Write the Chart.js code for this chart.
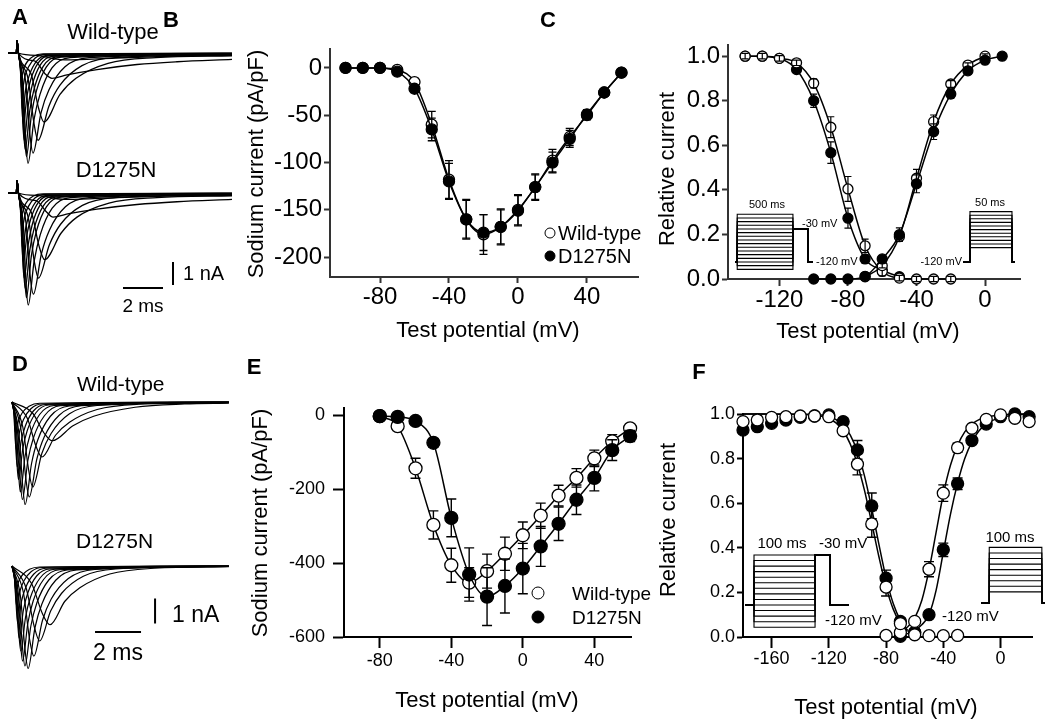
<!DOCTYPE html>
<html><head><meta charset="utf-8">
<script src="https://cdn.jsdelivr.net/npm/chart.js@4.4.0/dist/chart.umd.min.js"></script>
<style>
html,body{margin:0;padding:0;background:#fff;}
#wrap{position:relative;width:1050px;height:723px;overflow:hidden;background:#fff;font-family:"Liberation Sans",Arial,Helvetica,sans-serif;color:#000;}
#wrap canvas{position:absolute;left:0;top:0;}
#txt{position:absolute;left:0;top:0;width:1050px;height:723px;z-index:5;}
.t,.l,.r,.v{position:absolute;white-space:nowrap;line-height:1;}
.t{transform:translate(-50%,-50%);}
.l{transform:translate(0,-50%);}
.r{transform:translate(-100%,-50%);}
.v{transform:translate(-50%,-50%) rotate(-90deg);}
.dot{position:absolute;border-radius:50%;border:1.4px solid #000;box-sizing:border-box;transform:translate(-50%,-50%);background:#fff;}
.dot.f{background:#000;}
</style></head>
<body><div id="wrap"><div id="txt"></div></div>
<script>
// ---------------- DATA ----------------
// Panel B: peak current density (pA/pF) vs test potential
const bVolt   = [-100,-90,-80,-70,-60,-50,-40,-30,-20,-10,0,10,20,30,40,50,60];
const bWT     = [0,0,0,-2,-15,-60,-118,-160,-176,-168,-150,-126,-98,-73,-50,-26,-5];
const bWTerr  = [0,0,0,2,4,14,20,21,21,19,16,14,12,9,5,3,2];
const bMut    = [0,0,0,-4,-22,-65,-120,-160,-174,-168,-151,-126,-100,-75,-49,-26,-5];
const bMutErr = [0,0,0,2,4,12,19,20,19,18,16,13,11,9,5,3,2];
const bXTicks = [-80,-40,0,40];
const bYTicks = [0,-50,-100,-150,-200];

// Panel C: steady-state inactivation and activation
const cInactVolt    = [-140,-130,-120,-110,-100,-90,-80,-70,-60,-50,-40,-30,-20];
const cInactWT      = [1.0,1.0,0.99,0.97,0.878,0.681,0.404,0.149,0.034,0.004,0,0,0];
const cInactWTerr   = [0.012,0.012,0.012,0.012,0.02,0.047,0.056,0.03,0.02,0.012,0.012,0.012,0.012];
const cInactMutVolt = [-140,-130,-120,-110,-100,-90,-80,-70,-60,-50];
const cInactMut     = [1.0,1.0,0.99,0.94,0.80,0.567,0.273,0.09,0.04,0.01];
const cInactMutErr  = [0.01,0.01,0.01,0.012,0.03,0.048,0.045,0.02,0.01,0.005];
const cActWTVolt    = [-70,-60,-50,-40,-30,-20,-10,0];
const cActWT        = [0.01,0.06,0.19,0.452,0.706,0.875,0.96,1.0];
const cActWTerr     = [0,0.01,0.02,0.04,0.03,0.015,0.01,0.01];
const cActMutVolt   = [-100,-90,-80,-70,-60,-50,-40,-30,-20,-10,0,10];
const cActMut       = [0,0,0,0.012,0.09,0.199,0.427,0.661,0.83,0.934,0.982,1.0];
const cActMutErr    = [0,0,0,0,0.015,0.03,0.04,0.035,0.02,0.012,0.01,0];
const cXTicks = [-120,-80,-40,0];
const cYTicks = [0,0.2,0.4,0.6,0.8,1.0];

// Panel E: peak current density (pA/pF)
const eVolt   = [-80,-70,-60,-50,-40,-30,-20,-10,0,10,20,30,40,50,60];
const eWT     = [-3,-30,-144,-297,-406,-453,-422,-375,-325,-272,-218,-170,-117,-71,-36];
const eWTerr  = [0,5,27,38,46,40,46,45,36,34,28,25,22,18,10];
const eMut    = [-3,-5,-16,-75,-278,-431,-491,-462,-415,-355,-294,-229,-170,-95,-57];
const eMutErr = [0,0,5,11,51,72,78,73,68,54,45,40,35,28,15];
const eXTicks = [-80,-40,0,40];
const eYTicks = [0,-200,-400,-600];

// Panel F: inactivation / activation
const fInactVolt    = [-180,-170,-160,-150,-140,-130,-120,-110,-100,-90,-80,-70,-60,-50,-40,-30];
const fInactWT      = [0.966,0.973,0.985,0.988,0.991,0.991,0.988,0.925,0.775,0.507,0.224,0.06,0.01,0.006,0.006,0.007];
const fInactWTerr   = [0,0,0,0,0,0,0,0.015,0.048,0.06,0.04,0.015,0,0,0,0];
const fInactMutVolt = [-180,-170,-160,-150,-140,-130,-120,-110,-100,-90,-80,-70,-60];
const fInactMut     = [0.928,0.943,0.958,0.973,0.985,0.991,0.996,0.966,0.839,0.588,0.264,0.07,0.02];
const fInactMutErr  = [0,0,0,0,0,0,0,0.015,0.042,0.058,0.036,0.015,0];
const fActVolt      = [-80,-70,-60,-50,-40,-30,-20,-10,0,10,20];
const fActWT        = [0.007,0.02,0.07,0.304,0.645,0.849,0.936,0.976,0.996,0.981,0.966];
const fActWTerr     = [0,0,0.01,0.034,0.037,0.02,0.01,0.005,0,0,0];
const fActMutVolt   = [-70,-60,-50,-40,-30,-20,-10,0,10,20];
const fActMut       = [0.003,0.02,0.1,0.391,0.687,0.881,0.955,0.988,1.0,0.988];
const fActMutErr    = [0,0,0.01,0.03,0.026,0.015,0.01,0,0,0];
// fitted curves
const fFitInactVolt = [-180,-140,-125,-120,-115,-110,-105,-100,-95,-90,-85,-80,-75,-70,-65];
const fFitInactWT   = [1.0,0.999,0.99,0.98,0.96,0.925,0.865,0.775,0.655,0.51,0.36,0.225,0.125,0.06,0.025];
const fFitInactMut  = [1.0,0.999,0.995,0.99,0.975,0.95,0.905,0.83,0.72,0.575,0.415,0.265,0.15,0.075,0.03];
const fFitActVolt   = [-72,-65,-60,-55,-50,-45,-40,-35,-30,-25,-20,-15,-10,0,10,20];
const fFitActWT     = [0.02,0.045,0.085,0.165,0.3,0.47,0.64,0.77,0.86,0.92,0.955,0.975,0.985,0.995,1.0,1.0];
const fFitActMut    = [0.005,0.015,0.03,0.055,0.1,0.21,0.38,0.55,0.69,0.8,0.875,0.925,0.955,0.985,0.995,1.0];
const fXTicks = [-160,-120,-80,-40,0];
const fYTicks = [0,0.2,0.4,0.6,0.8,1.0];

// Voltage protocols (mV, ms)
const holdV = -120;
const cInactLevels = [-140,-130,-120,-110,-100,-90,-80,-70,-60,-50,-40,-30,-20,-10,0,10];
const cInactTiming = [20,500,135,45];   // hold, prepulse, test, post
const cInactTestV = -30;
const cActLevels = [-80,-70,-60,-50,-40,-30,-20,-10,0,10,20];
const cActTiming = [8.3,50,3.6];        // hold, pulse, post
const fInactLevels = [-160,-150,-140,-130,-120,-110,-100,-90,-80,-70,-60,-50,-40,-30];
const fInactTiming = [14.75,100,24.6,31];
const fInactTestV = -30;
const fActLevels = [-100,-90,-80,-70,-60,-50,-40,-30,-20];
const fActTiming = [15.7,100,6];

// Current traces (ms, nA)
const aArtifact = [[-0.45,0],[-0.03,0],[0,0.55]];
const aWT = [
 [[0.07,0],[1.0,-0.1],[1.9,-0.26],[2.4,-0.3],[4.9,-0.22],[7.4,-0.15],[10.75,-0.1]],
 [[0.07,0],[0.9,-0.35],[1.4,-0.9],[1.75,-1.1],[2.5,-0.95],[4,-0.72],[6,-0.5],[8,-0.38],[10.75,-0.28]],
 [[0.07,0],[0.7,-0.9],[1.08,-2.4],[1.35,-3.0],[2.15,-1.8],[2.95,-1.1],[4.55,-0.45],[6.95,-0.2],[10.75,-0.12]],
 [[0.07,0],[0.56,-1.15],[0.84,-3.0],[1.05,-3.8],[1.6,-2.3],[2.15,-1.4],[3.25,-0.55],[4.9,-0.2],[10.75,-0.08]],
 [[0.07,0],[0.44,-1.3],[0.64,-3.5],[0.8,-4.35],[1.2,-2.6],[1.6,-1.6],[2.4,-0.6],[3.6,-0.2],[10.75,-0.06]],
 [[0.07,0],[0.31,-1.45],[0.44,-3.85],[0.55,-4.8],[0.85,-2.9],[1.15,-1.8],[1.75,-0.65],[2.65,-0.2],[10.75,-0.05]],
 [[0.07,0],[0.27,-1.35],[0.38,-3.6],[0.47,-4.5],[0.72,-2.7],[0.97,-1.65],[1.47,-0.6],[2.2,-0.18],[10.75,-0.04]],
 [[0.07,0],[0.24,-1.25],[0.33,-3.35],[0.41,-4.2],[0.64,-2.5],[0.86,-1.55],[1.31,-0.58],[2.0,-0.17],[10.75,-0.04]],
 [[0.07,0],[0.22,-1.15],[0.29,-3.0],[0.36,-3.8],[0.56,-2.3],[0.76,-1.4],[1.16,-0.53],[1.76,-0.15],[10.75,-0.03]],
 [[0.07,0],[0.2,-0.93],[0.26,-2.5],[0.32,-3.1],[0.5,-1.86],[0.69,-1.15],[1.06,-0.43],[1.6,-0.12],[10.75,-0.03]],
 [[0.07,0],[0.18,-0.75],[0.23,-2.0],[0.28,-2.5],[0.45,-1.5],[0.63,-0.93],[0.98,-0.35],[1.5,-0.1],[10.75,-0.02]],
 [[0.07,0],[0.16,-0.48],[0.2,-1.28],[0.25,-1.6],[0.41,-0.96],[0.58,-0.6],[0.91,-0.22],[1.4,-0.06],[10.75,-0.02]],
 [[0.07,0],[0.15,-0.3],[0.18,-0.8],[0.22,-1.0],[0.37,-0.6],[0.52,-0.37],[0.82,-0.14],[1.3,-0.04],[10.75,-0.01]]
];
const aMut = [
 [[0.07,0],[1.0,-0.1],[2.0,-0.25],[2.5,-0.28],[5,-0.2],[7.5,-0.14],[10.75,-0.1]],
 [[0.07,0],[0.95,-0.33],[1.5,-0.85],[1.8,-1.05],[2.6,-0.9],[4,-0.7],[6,-0.5],[8,-0.38],[10.75,-0.28]],
 [[0.07,0],[0.72,-0.85],[1.1,-2.3],[1.38,-2.9],[2.2,-1.75],[3.0,-1.05],[4.6,-0.44],[7.0,-0.2],[10.75,-0.12]],
 [[0.07,0],[0.57,-1.1],[0.86,-2.95],[1.07,-3.7],[1.62,-2.25],[2.17,-1.37],[3.27,-0.54],[4.9,-0.2],[10.75,-0.08]],
 [[0.07,0],[0.45,-1.3],[0.65,-3.55],[0.82,-4.4],[1.22,-2.65],[1.62,-1.62],[2.42,-0.6],[3.6,-0.2],[10.75,-0.06]],
 [[0.07,0],[0.32,-1.46],[0.45,-3.9],[0.56,-4.87],[0.86,-2.95],[1.16,-1.82],[1.76,-0.66],[2.66,-0.2],[10.75,-0.05]],
 [[0.07,0],[0.27,-1.36],[0.38,-3.62],[0.47,-4.55],[0.72,-2.72],[0.97,-1.66],[1.47,-0.6],[2.2,-0.18],[10.75,-0.04]],
 [[0.07,0],[0.24,-1.24],[0.33,-3.3],[0.41,-4.15],[0.64,-2.48],[0.86,-1.53],[1.31,-0.57],[2.0,-0.17],[10.75,-0.04]],
 [[0.07,0],[0.22,-1.12],[0.29,-2.95],[0.36,-3.7],[0.56,-2.25],[0.76,-1.38],[1.16,-0.52],[1.76,-0.15],[10.75,-0.03]],
 [[0.07,0],[0.2,-0.9],[0.26,-2.4],[0.32,-3.0],[0.5,-1.8],[0.69,-1.12],[1.06,-0.42],[1.6,-0.12],[10.75,-0.03]],
 [[0.07,0],[0.18,-0.72],[0.23,-1.92],[0.28,-2.4],[0.45,-1.45],[0.63,-0.9],[0.98,-0.34],[1.5,-0.1],[10.75,-0.02]],
 [[0.07,0],[0.16,-0.46],[0.2,-1.22],[0.25,-1.52],[0.41,-0.92],[0.58,-0.57],[0.91,-0.21],[1.4,-0.06],[10.75,-0.02]],
 [[0.07,0],[0.15,-0.28],[0.18,-0.75],[0.22,-0.95],[0.37,-0.57],[0.52,-0.35],[0.82,-0.13],[1.3,-0.04],[10.75,-0.01]]
];
const dWT = [
 [[0,0],[0.9,-0.45],[1.4,-1.25],[1.75,-1.55],[2.65,-0.95],[3.55,-0.57],[5.35,-0.21],[7.5,-0.08],[9.43,-0.05]],
 [[0,0],[0.67,-0.66],[1.04,-1.76],[1.3,-2.2],[1.9,-1.32],[2.5,-0.81],[3.7,-0.3],[5.5,-0.09],[9.43,-0.03]],
 [[0,0],[0.47,-1.0],[0.72,-2.7],[0.9,-3.4],[1.3,-2.05],[1.7,-1.26],[2.5,-0.47],[3.7,-0.14],[9.43,-0.02]],
 [[0,0],[0.4,-1.15],[0.6,-3.05],[0.75,-3.8],[1.08,-2.28],[1.4,-1.4],[2.05,-0.53],[3.0,-0.15],[9.43,-0.02]],
 [[0,0],[0.3,-1.25],[0.46,-3.3],[0.57,-4.1],[0.85,-2.46],[1.12,-1.52],[1.67,-0.57],[2.5,-0.16],[9.43,-0.02]],
 [[0,0],[0.24,-1.17],[0.36,-3.1],[0.45,-3.9],[0.69,-2.34],[0.93,-1.44],[1.41,-0.55],[2.1,-0.15],[9.43,-0.01]],
 [[0,0],[0.19,-1.08],[0.29,-2.9],[0.36,-3.6],[0.57,-2.16],[0.78,-1.33],[1.2,-0.5],[1.83,-0.14],[9.43,-0.01]],
 [[0,0],[0.15,-0.93],[0.22,-2.5],[0.28,-3.1],[0.47,-1.86],[0.66,-1.15],[1.04,-0.43],[1.6,-0.12],[9.43,-0.01]],
 [[0,0],[0.12,-0.78],[0.18,-2.1],[0.23,-2.6],[0.4,-1.56],[0.58,-0.96],[0.93,-0.36],[1.45,-0.1],[9.43,0]],
 [[0,0],[0.1,-0.57],[0.14,-1.5],[0.18,-1.9],[0.34,-1.14],[0.5,-0.7],[0.82,-0.27],[1.3,-0.08],[9.43,0]],
 [[0,0],[0.08,-0.36],[0.11,-0.96],[0.14,-1.2],[0.29,-0.72],[0.44,-0.44],[0.74,-0.17],[1.2,-0.05],[9.43,0]]
];
const dMut = [
 [[0,0],[0.85,-0.7],[1.32,-1.9],[1.65,-2.35],[2.3,-1.41],[2.95,-0.87],[4.25,-0.32],[6.2,-0.09],[9.43,-0.03]],
 [[0,0],[0.62,-0.9],[0.96,-2.4],[1.2,-3.0],[1.68,-1.8],[2.15,-1.1],[3.1,-0.41],[4.5,-0.12],[9.43,-0.02]],
 [[0,0],[0.5,-1.08],[0.76,-2.9],[0.95,-3.6],[1.33,-2.16],[1.7,-1.33],[2.45,-0.5],[3.6,-0.14],[9.43,-0.02]],
 [[0,0],[0.37,-1.23],[0.56,-3.3],[0.7,-4.1],[1.0,-2.46],[1.3,-1.52],[1.9,-0.57],[2.8,-0.16],[9.43,-0.02]],
 [[0,0],[0.29,-1.2],[0.45,-3.2],[0.56,-4.0],[0.82,-2.4],[1.08,-1.48],[1.6,-0.56],[2.4,-0.16],[9.43,-0.01]],
 [[0,0],[0.24,-1.14],[0.37,-3.05],[0.46,-3.8],[0.69,-2.28],[0.92,-1.4],[1.38,-0.53],[2.07,-0.15],[9.43,-0.01]],
 [[0,0],[0.2,-1.02],[0.3,-2.7],[0.38,-3.4],[0.59,-2.04],[0.8,-1.26],[1.22,-0.48],[1.85,-0.13],[9.43,-0.01]],
 [[0,0],[0.16,-0.87],[0.25,-2.3],[0.31,-2.9],[0.5,-1.74],[0.69,-1.07],[1.07,-0.4],[1.64,-0.12],[9.43,0]],
 [[0,0],[0.13,-0.69],[0.2,-1.85],[0.25,-2.3],[0.42,-1.38],[0.6,-0.85],[0.95,-0.32],[1.47,-0.09],[9.43,0]],
 [[0,0],[0.11,-0.48],[0.16,-1.28],[0.2,-1.6],[0.36,-0.96],[0.52,-0.59],[0.84,-0.22],[1.32,-0.06],[9.43,0]],
 [[0,0],[0.09,-0.29],[0.13,-0.76],[0.16,-0.95],[0.31,-0.57],[0.46,-0.35],[0.76,-0.13],[1.21,-0.04],[9.43,0]]
];
const scaleBarTime = 2;     // ms
const scaleBarCurrent = 1;  // nA

// ---------------- DRAWING ----------------
const W = 1050, H = 723;
const FONT = '"Liberation Sans", Arial, Helvetica, sans-serif';
Chart.defaults.font.family = FONT;
Chart.defaults.color = '#000';
const wrap = document.getElementById('wrap');
const txt = document.getElementById('txt');
function addCanvas(){
  const c = document.createElement('canvas');
  c.width = W; c.height = H; c.style.width = W+'px'; c.style.height = H+'px';
  wrap.insertBefore(c, txt);
  return c;
}
function baseOpts(pad){
  return {responsive:false, maintainAspectRatio:false, animation:false, events:[], devicePixelRatio:1,
    layout:{padding:pad}, plugins:{legend:{display:false}, tooltip:{enabled:false}}};
}
function pts(xs, ys){ return xs.map((x,i)=>({x:x, y:ys[i]})); }

function drawErr(chart, i, o){
  const ds = chart.data.datasets[i];
  if(!ds.errors) return;
  const ctx = chart.ctx, xs = chart.scales.x, ys = chart.scales.y;
  ctx.save(); ctx.strokeStyle = '#000'; ctx.lineWidth = o.width || 1.3;
  ds.data.forEach((p,k)=>{
    const e = ds.errors[k]; if(!e) return;
    const x = xs.getPixelForValue(p.x), y1 = ys.getPixelForValue(p.y+e), y2 = ys.getPixelForValue(p.y-e);
    ctx.beginPath();
    ctx.moveTo(x,y1); ctx.lineTo(x,y2);
    ctx.moveTo(x-o.cap,y1); ctx.lineTo(x+o.cap,y1);
    ctx.moveTo(x-o.cap,y2); ctx.lineTo(x+o.cap,y2);
    ctx.stroke();
  });
  ctx.restore();
}
const errPlugin = {
  id:'errbars',
  beforeDatasetDraw(chart, args, o){ if(!o.onTop) drawErr(chart, args.index, o); },
  afterDatasetDraw(chart, args, o){ if(o.onTop) drawErr(chart, args.index, o); }
};

function series(xs, ys, errs, filled, r, showLine, order){
  return {data:pts(xs,ys), errors:errs, pointRadius:r, pointStyle:'circle',
    pointBackgroundColor: filled ? '#000' : '#fff', pointBorderColor:'#000', pointBorderWidth:1.3,
    borderColor:'#000', borderWidth:1.5, showLine:showLine, cubicInterpolationMode:'monotone',
    fill:false, clip:false, order:order};
}
function fitLine(xs, ys, order){
  return {data:pts(xs,ys), pointRadius:0, borderColor:'#000', borderWidth:1.5, showLine:true,
    cubicInterpolationMode:'monotone', fill:false, clip:false, order:order};
}

function axisChart(c){
  const FW = 100, FH = 60, a = c.area;
  const opts = baseOpts({left:a.l-FW, top:a.t, right:W-a.r, bottom:H-a.b-FH});
  opts.plugins.errbars = c.err;
  const ax = (rng, tks, fmt, tl, pad, isX) => ({
    type:'linear', min:rng[0], max:rng[1],
    afterBuildTicks: s => { s.ticks = tks.map(v=>({value:v})); },
    afterFit: s => { if(isX) s.height = FH; else s.width = FW; },
    grid:{display:true, drawOnChartArea:false, drawTicks:true, tickLength:tl, tickColor:c.axisColor, tickWidth:c.axisWidth},
    border:{display:true, color:c.axisColor, width:c.axisWidth},
    ticks:{autoSkip:false, maxRotation:0, minRotation:0, padding:pad, color:'#000',
      font:{size:c.fontSize, family:FONT}, callback: v => fmt(v)}
  });
  opts.scales = {
    x: ax(c.xr, c.xt, c.xfmt, c.xtl, c.xpad, true),
    y: ax(c.yr, c.yt, c.yfmt, c.ytl, c.ypad, false)
  };
  return new Chart(addCanvas(), {type:'line', data:{datasets:c.datasets}, options:opts, plugins:[errPlugin]});
}

function hiddenChart(area, xr, yr, datasets){
  const opts = baseOpts({left:area.l, top:area.t, right:W-area.r, bottom:H-area.b});
  opts.scales = {x:{type:'linear', display:false, min:xr[0], max:xr[1]}, y:{type:'linear', display:false, min:yr[0], max:yr[1]}};
  return new Chart(addCanvas(), {type:'line', data:{datasets}, options:opts});
}

function traceChart(x0, pxT, y0, pxI, traces, prefix, lw, extra){
  const xmin=-0.5, xmax=11, ymin=-5, ymax=1.5;
  const area = {l:x0+xmin*pxT, r:x0+xmax*pxT, t:y0-ymax*pxI, b:y0-ymin*pxI};
  const ds = traces.map(tr => ({data:prefix.concat(tr).map(p=>({x:p[0], y:p[1]})), borderColor:'#000', borderWidth:lw,
    pointRadius:0, cubicInterpolationMode:'monotone', fill:false, clip:false}));
  (extra||[]).forEach(e => ds.push({data:e.map(p=>({x:p[0],y:p[1]})), borderColor:'#000', borderWidth:2, pointRadius:0, tension:0, fill:false, clip:false}));
  return hiddenChart(area, [xmin,xmax], [ymin,ymax], ds);
}

function protoSweeps(levels, timing, testV){
  return levels.map(V => {
    const p = [[-timing[0],holdV],[0,holdV],[0,V],[timing[1],V]];
    let t = timing[1];
    if(testV !== undefined){
      p.push([t,testV]); t += timing[2]; p.push([t,testV]); p.push([t,holdV]); p.push([t+timing[3],holdV]);
    } else {
      p.push([t,holdV]); p.push([t+timing[2],holdV]);
    }
    return {data:p.map(q=>({x:q[0],y:q[1]})), borderColor:'#000', borderWidth:1.1, pointRadius:0, tension:0, fill:false, clip:false};
  });
}

// ---- Panel A traces ----
traceChart(17, 20, 53, 23, aWT, aArtifact, 1.3);
traceChart(17, 20, 193, 23, aMut, aArtifact, 1.3, [
  [[5.3,-4.13],[5.3+scaleBarTime,-4.13]],
  [[7.8,-3.0],[7.8,-3.0-scaleBarCurrent]]
]);
// ---- Panel D traces ----
traceChart(12, 23, 402, 25, dWT, [], 1.2);
traceChart(12, 23, 566, 25, dMut, [], 1.2, [
  [[3.61,-2.64],[3.61+scaleBarTime,-2.64]],
  [[6.22,-1.3],[6.22,-1.3-scaleBarCurrent]]
]);

const intFmt = v => String(v);
const decFmt = v => v.toFixed(1);

// ---- Panel B ----
axisChart({area:{l:330,r:638,t:49,b:277}, xr:[-109,69.6], yr:[-221,20], xt:bXTicks, yt:bYTicks,
  xfmt:intFmt, yfmt:intFmt, xtl:6, ytl:6, xpad:0, ypad:2, fontSize:24, axisColor:'#333', axisWidth:2,
  err:{onTop:false, cap:4, width:1.3},
  datasets:[ series(bVolt,bWT,bWTerr,false,5.5,true,2), series(bVolt,bMut,bMutErr,true,5.5,true,1) ]});

// ---- Panel C ----
axisChart({area:{l:728,r:1020,t:45,b:279}, xr:[-150,20.4], yr:[0,1.05], xt:cXTicks, yt:cYTicks,
  xfmt:intFmt, yfmt:decFmt, xtl:7, ytl:6, xpad:0, ypad:2, fontSize:24, axisColor:'#333', axisWidth:2,
  err:{onTop:true, cap:3.5, width:1.2},
  datasets:[
    series(cInactMutVolt,cInactMut,cInactMutErr,true,5,true,4),
    series(cInactVolt,cInactWT,cInactWTerr,false,5,true,3),
    series(cActWTVolt,cActWT,cActWTerr,false,5,true,2),
    series(cActMutVolt,cActMut,cActMutErr,true,5,true,1)
  ]});
hiddenChart({l:735,r:813,t:200,b:280}, [-cInactTiming[0], cInactTiming[1]+cInactTiming[2]+cInactTiming[3]],
  [holdV-(280-262)/0.367, holdV+(262-200)/0.367], protoSweeps(cInactLevels, cInactTiming, cInactTestV));
hiddenChart({l:963,r:1015,t:200,b:270}, [-cActTiming[0], cActTiming[1]+cActTiming[2]],
  [holdV-(270-262)/0.36, holdV+(262-200)/0.36], protoSweeps(cActLevels, cActTiming));

// ---- Panel E ----
axisChart({area:{l:344,r:631,t:408,b:637}, xr:[-100,60.5], yr:[-600,19], xt:eXTicks, yt:eYTicks,
  xfmt:intFmt, yfmt:intFmt, xtl:11, ytl:11, xpad:2, ypad:8, fontSize:18, axisColor:'#000', axisWidth:2,
  err:{onTop:false, cap:5, width:1.4},
  datasets:[ series(eVolt,eWT,eWTerr,false,6.5,true,2), series(eVolt,eMut,eMutErr,true,6.5,true,1) ]});

// ---- Panel F ----
axisChart({area:{l:743,r:1032,t:414,b:637}, xr:[-180,22], yr:[0,1.0], xt:fXTicks, yt:fYTicks,
  xfmt:intFmt, yfmt:decFmt, xtl:11, ytl:6, xpad:0, ypad:2, fontSize:18, axisColor:'#000', axisWidth:2,
  err:{onTop:false, cap:5, width:1.4},
  datasets:[
    fitLine(fFitInactVolt,fFitInactWT,10), fitLine(fFitInactVolt,fFitInactMut,10),
    fitLine(fFitActVolt,fFitActWT,10), fitLine(fFitActVolt,fFitActMut,10),
    series(fInactMutVolt,fInactMut,fInactMutErr,true,6,false,5),
    series(fActMutVolt,fActMut,fActMutErr,true,6,false,5),
    series(fInactVolt,fInactWT,fInactWTerr,false,6,false,1),
    series(fActVolt,fActWT,fActWTerr,false,6,false,1)
  ]});
hiddenChart({l:745,r:849,t:540,b:640}, [-fInactTiming[0], fInactTiming[1]+fInactTiming[2]+fInactTiming[3]],
  [holdV-(640-605)/0.556, holdV+(605-540)/0.556], protoSweeps(fInactLevels, fInactTiming, fInactTestV));
hiddenChart({l:981,r:1045,t:540,b:640}, [-fActTiming[0], fActTiming[1]+fActTiming[2]],
  [holdV-(640-603)/0.556, holdV+(603-540)/0.556], protoSweeps(fActLevels, fActTiming));

// ---- Text ----
const labels = [
  ['t',20,17,22,1,'A'],['t',171,20,22,1,'B'],['t',548,20,22,1,'C'],
  ['t',20,364,22,1,'D'],['t',254,367,22,1,'E'],['t',699,372,22,1,'F'],
  ['t',113,32,22,0,'Wild-type'],['t',116,170,22,0,'D1275N'],
  ['t',143,305,19,0,'2 ms'],['l',183,273,20,0,'1 nA'],
  ['v',256,164,22,0,'Sodium current (pA/pF)'],['t',488,330,22,0,'Test potential (mV)'],
  ['l',558,233,20,0,'Wild-type'],['l',558,256,20,0,'D1275N'],
  ['v',667,169,22,0,'Relative current'],['t',868,331,22,0,'Test potential (mV)'],
  ['t',767,204,11,0,'500 ms'],['l',802,223,11,0,'-30 mV'],['l',816,261,11,0,'-120 mV'],
  ['t',990,202,11,0,'50 ms'],['r',962,261,11,0,'-120 mV'],
  ['l',77,383,21,0,'Wild-type'],['l',76,540,21,0,'D1275N'],
  ['t',118,652,23,0,'2 ms'],['l',172,614,23,0,'1 nA'],
  ['v',260,523,22,0,'Sodium current (pA/pF)'],['t',487,700,22,0,'Test potential (mV)'],
  ['l',572,593,19,0,'Wild-type'],['l',572,617,19,0,'D1275N'],
  ['v',668,520,22,0,'Relative current'],['t',886,707,22,0,'Test potential (mV)'],
  ['t',782,542,15,0,'100 ms'],['l',819,542,15,0,'-30 mV'],['l',825,619,15,0,'-120 mV'],
  ['t',1010,536,15,0,'100 ms'],['l',942,615,15,0,'-120 mV']
];
labels.forEach(L => {
  const d = document.createElement('div');
  d.className = L[0]; d.style.left = L[1]+'px'; d.style.top = L[2]+'px';
  d.style.fontSize = L[3]+'px'; if(L[4]) d.style.fontWeight = 'bold';
  d.textContent = L[5]; txt.appendChild(d);
});
// legend symbols
[[550,233,11,false],[550,256,11,true],[538,593,13,false],[538,617,13,true]].forEach(s => {
  const d = document.createElement('div');
  d.className = 'dot' + (s[3] ? ' f' : '');
  d.style.left = s[0]+'px'; d.style.top = s[1]+'px'; d.style.width = s[2]+'px'; d.style.height = s[2]+'px';
  txt.appendChild(d);
});
</script>
</body></html>
